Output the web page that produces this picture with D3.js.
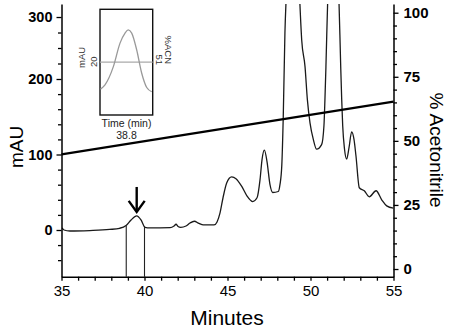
<!DOCTYPE html>
<html>
<head>
<meta charset="utf-8">
<script src="https://cdn.jsdelivr.net/npm/d3@7"></script>
<style>
  body { margin: 0; background: #fff; }
  svg { display: block; font-family: "Liberation Sans", Arial, sans-serif; }
</style>
</head>
<body>
<div id="chart"></div>
<script>
// chromatogram: absorbance (mAU) vs time, plus % acetonitrile gradient

// main trace
const traceTime = [35.03, 35.15, 35.5, 36.7, 37.9, 38.5, 38.89, 39.19, 39.53, 39.79, 40.03, 40.33,
  41.54, 41.78, 41.9, 42.02, 42.18, 42.5, 42.74, 43.0, 43.28, 43.54, 44.19, 44.37, 44.55, 44.73,
  44.95, 45.25, 45.51, 45.86, 46.17, 46.52, 46.78, 46.96, 47.08, 47.22, 47.38, 47.56, 47.72, 48.06,
  48.16, 48.27, 48.36, 48.46, 48.55, 48.7, 49.2, 49.33, 49.47, 49.67, 49.81, 49.97, 50.17, 50.37,
  50.67, 50.81, 50.87, 50.93, 51.05, 51.2, 51.55, 51.7, 51.82, 51.88, 51.94, 52.05, 52.18, 52.32,
  52.48, 52.62, 52.74, 52.94, 53.24, 53.54, 53.95, 54.29, 54.59, 54.99];
const traceMAU = [2.7, 0, -1.3, -0.7, 0.7, 2.3, 6, 13.3, 18.7, 13.3, 3.6, 2.7,
  3.1, 5.3, 7.6, 4.7, 3.6, 5.3, 9.3, 11.6, 8.7, 6.7, 6.7, 10.7, 22.7, 42.7,
  62.3, 70.3, 68, 57.7, 45.3, 37.7, 42.7, 66.7, 93.3, 105.7, 90.7, 60, 49.7, 51,
  60, 85.3, 151, 275, 340, 420, 420, 340, 263, 220, 173, 142, 120, 107,
  113, 138, 173, 220, 340, 400, 400, 340, 220, 173, 138, 107, 94, 109,
  130, 120, 98, 56, 52, 44, 52, 40, 32, 29];

// acetonitrile gradient (start, end)
const gradientTime = [35, 55];
const gradientACN = [44.7, 65.3];

// collected fraction borders and marked peak
const fractionTimes = [38.9, 40.0];
const arrowTime = 39.53;
const arrowMAU = [57, 24];

// ticks
const xTicks = [35, 36, 37, 38, 39, 40, 41, 42, 43, 44, 45, 46, 47, 48, 49, 50, 51, 52, 53, 54, 55];
const xTickLabels = [35, 40, 45, 50, 55];
const leftTicks = [0, 100, 200, 300];
const leftMinorTicks = [-40, -20, 20, 40, 60, 80, 120, 140, 160, 180, 225, 250, 275];
const rightTicks = [0, 25, 50, 75, 100];
const rightMinorTicks = [5, 10, 15, 20, 30, 35, 40, 45, 55, 60, 65, 70, 80, 85, 90, 95];

// inset: zoom on the collected peak
const insetTime = [38.506, 38.557, 38.651, 38.728, 38.785, 38.822, 38.861, 38.918, 38.975, 39.032, 39.089];
const insetMAU = [14.9, 15.7, 19.1, 23.6, 25.5, 26.1, 25.5, 22.3, 17.9, 15.2, 14.4];
const insetACN = 51;
const insetLabels = { mau: "20", acn: "51", time: "38.8" };

const W = 453, H = 331;
const margin = { top: 4, right: 59.5, bottom: 54.3, left: 61.5 };
const innerW = W - margin.left - margin.right;
const innerH = H - margin.top - margin.bottom;
const plotBottom = margin.top + innerH;

const svg = d3.select("#chart").append("svg")
  .attr("width", W)
  .attr("height", H);

const x = d3.scaleLinear().domain([35, 55]).range([margin.left, margin.left + innerW]);
// the left axis is drawn with a squeezed top segment (200 -> 300), as in the source figure
const yL = d3.scaleLinear().domain([-62, 0, 200, 321]).range([plotBottom, 230, 79, margin.top]);
const yR = d3.scaleLinear().domain([-3, 103.4]).range([plotBottom, margin.top]);

svg.append("clipPath").attr("id", "plotClip")
  .append("rect")
  .attr("x", margin.left).attr("y", margin.top)
  .attr("width", innerW).attr("height", innerH);

// trace
const trace = traceTime.map((t, i) => ({ t, v: traceMAU[i] }));
svg.append("path")
  .datum(trace)
  .attr("clip-path", "url(#plotClip)")
  .attr("fill", "none")
  .attr("stroke", "#1a1a1a")
  .attr("stroke-width", 1.3)
  .attr("d", d3.line().x(d => x(d.t)).y(d => yL(d.v)).curve(d3.curveMonotoneX));

// gradient line
svg.append("line")
  .attr("x1", x(gradientTime[0])).attr("y1", yR(gradientACN[0]))
  .attr("x2", x(gradientTime[1])).attr("y2", yR(gradientACN[1]))
  .attr("stroke", "#000")
  .attr("stroke-width", 2.2);

// fraction lines, from trace down to axis
function traceAt(t) {
  const i = d3.bisector(d => d.t).left(trace, t);
  const a = trace[i - 1], b = trace[i];
  return a.v + (b.v - a.v) * (t - a.t) / (b.t - a.t);
}
svg.selectAll(".frac")
  .data(fractionTimes)
  .enter().append("line")
  .attr("class", "frac")
  .attr("x1", d => x(d)).attr("x2", d => x(d))
  .attr("y1", d => yL(traceAt(d)))
  .attr("y2", plotBottom)
  .attr("stroke", "#222")
  .attr("stroke-width", 1.1);

// arrow
const ax = x(arrowTime), aTop = yL(arrowMAU[0]), aTip = yL(arrowMAU[1]);
svg.append("line")
  .attr("x1", ax).attr("y1", aTop).attr("x2", ax).attr("y2", aTip)
  .attr("stroke", "#000").attr("stroke-width", 2.4);
svg.append("path")
  .attr("d", `M${ax - 8},${aTip - 11}L${ax},${aTip}L${ax + 8},${aTip - 11}`)
  .attr("fill", "none")
  .attr("stroke", "#000")
  .attr("stroke-width", 2.4);

// axes
function styleAxis(g) {
  g.select(".domain").attr("stroke", "#000").attr("stroke-width", 1.5);
  g.selectAll(".tick line").attr("stroke", "#000").attr("stroke-width", 1.3);
}

svg.append("g")
  .attr("transform", `translate(${margin.left},0)`)
  .call(d3.axisLeft(yL).tickValues(leftMinorTicks).tickSize(3.5).tickFormat(""))
  .call(g => g.select(".domain").remove())
  .call(styleAxis);
svg.append("g")
  .attr("transform", `translate(${margin.left},0)`)
  .call(d3.axisLeft(yL).tickValues(leftTicks).tickSize(5).tickSizeOuter(0).tickPadding(4))
  .call(styleAxis)
  .selectAll("text")
  .style("font-size", "14.5px")
  .style("font-weight", "700")
  .attr("fill", "#000");

const rx = margin.left + innerW;
svg.append("g")
  .attr("transform", `translate(${rx},0)`)
  .call(d3.axisRight(yR).tickValues(rightMinorTicks).tickSize(3.5).tickFormat(""))
  .call(g => g.select(".domain").remove())
  .call(styleAxis);
svg.append("g")
  .attr("transform", `translate(${rx},0)`)
  .call(d3.axisRight(yR).tickValues(rightTicks).tickSize(5).tickSizeOuter(0).tickPadding(5))
  .call(styleAxis)
  .selectAll("text")
  .style("font-size", "15px")
  .style("font-weight", "700")
  .attr("fill", "#000");

svg.append("g")
  .attr("transform", `translate(0,${plotBottom})`)
  .call(d3.axisBottom(x).tickValues(xTicks).tickSize(4).tickSizeOuter(0).tickPadding(5)
    .tickFormat(d => xTickLabels.includes(d) ? d : ""))
  .call(styleAxis)
  .selectAll("text")
  .style("font-size", "15px")
  .attr("fill", "#000");

// axis titles
svg.append("text")
  .attr("transform", "translate(23,147) rotate(-90)")
  .attr("text-anchor", "middle")
  .style("font-size", "19px")
  .text("mAU");
svg.append("text")
  .attr("transform", "translate(430,150) rotate(90)")
  .attr("text-anchor", "middle")
  .style("font-size", "19px")
  .text("% Acetonitrile");
svg.append("text")
  .attr("x", 227).attr("y", 325)
  .attr("text-anchor", "middle")
  .style("font-size", "21px")
  .text("Minutes");

// inset
const box = { x0: 100, x1: 152.7, y0: 9.3, y1: 115 };
const ix = d3.scaleLinear().domain([38.5, 39.1]).range([box.x0, box.x1]);
const iy = d3.scaleLinear().domain([10, 30]).range([box.y1, box.y0]);
const iyR = d3.scaleLinear().domain([41, 61]).range([box.y1, box.y0]);

const inset = svg.append("g");
inset.append("rect")
  .attr("x", box.x0).attr("y", box.y0)
  .attr("width", box.x1 - box.x0).attr("height", box.y1 - box.y0)
  .attr("fill", "#fff")
  .attr("stroke", "#111")
  .attr("stroke-width", 1.4);
inset.append("line")
  .attr("x1", box.x0).attr("x2", box.x1)
  .attr("y1", iyR(insetACN)).attr("y2", iyR(insetACN))
  .attr("stroke", "#aaa").attr("stroke-width", 1.2);
inset.append("path")
  .datum(insetTime.map((t, i) => ({ t, v: insetMAU[i] })))
  .attr("fill", "none")
  .attr("stroke", "#999")
  .attr("stroke-width", 1.3)
  .attr("d", d3.line().x(d => ix(d.t)).y(d => iy(d.v)).curve(d3.curveMonotoneX));

const insetFont = "9.5px";
inset.append("text")
  .attr("transform", "translate(85,68) rotate(-90)")
  .style("font-size", insetFont).attr("fill", "#333")
  .text("mAU");
inset.append("text")
  .attr("transform", "translate(97,67) rotate(-90)")
  .style("font-size", insetFont).attr("fill", "#333")
  .text(insetLabels.mau);
inset.append("text")
  .attr("transform", "translate(155.5,65) rotate(90)")
  .attr("text-anchor", "end")
  .style("font-size", insetFont).attr("fill", "#333")
  .text(insetLabels.acn);
inset.append("text")
  .attr("transform", "translate(165,64) rotate(90)")
  .attr("text-anchor", "end")
  .style("font-size", insetFont).attr("fill", "#333")
  .text("%ACN");
inset.append("text")
  .attr("x", 126.5).attr("y", 127)
  .attr("text-anchor", "middle")
  .style("font-size", "10.5px").attr("fill", "#222")
  .text("Time (min)");
inset.append("text")
  .attr("x", 126.5).attr("y", 139)
  .attr("text-anchor", "middle")
  .style("font-size", "10.5px").attr("fill", "#222")
  .text(insetLabels.time);
</script>
</body>
</html>
